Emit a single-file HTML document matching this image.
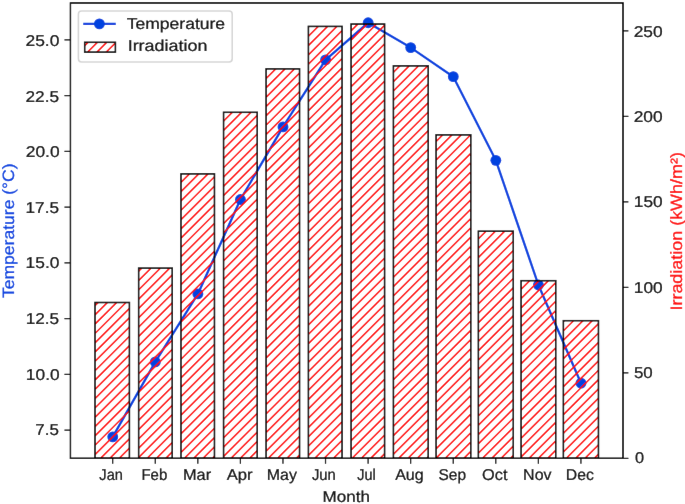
<!DOCTYPE html>
<html><head><meta charset="utf-8"><title>Temperature and Irradiation by Month</title>
<style>html,body{margin:0;padding:0;background:#fff}body{width:685px;height:504px;overflow:hidden;font-family:"Liberation Sans",sans-serif}svg{display:block}text{text-rendering:geometricPrecision}</style>
</head><body>
<svg width="685" height="504" viewBox="0 0 685 504" font-family="'Liberation Sans', sans-serif">
<rect width="685" height="504" fill="#fff"/>
<defs>
<clipPath id="cb"><rect x="95.00" y="302.50" width="34.40" height="155.80"/><rect x="138.66" y="268.10" width="33.54" height="190.20"/><rect x="180.98" y="173.90" width="33.48" height="284.40"/><rect x="223.57" y="112.30" width="33.63" height="346.00"/><rect x="266.07" y="68.90" width="33.48" height="389.40"/><rect x="308.40" y="26.40" width="33.65" height="431.90"/><rect x="351.07" y="24.05" width="33.53" height="434.25"/><rect x="393.40" y="65.90" width="34.80" height="392.40"/><rect x="436.07" y="134.90" width="34.73" height="323.40"/><rect x="478.36" y="231.20" width="34.89" height="227.10"/><rect x="521.07" y="280.70" width="34.68" height="177.60"/><rect x="563.36" y="320.70" width="35.09" height="137.60"/></clipPath>
<clipPath id="ca"><rect x="70.46" y="2.97" width="552.54" height="455.33"/></clipPath>
<clipPath id="cl"><rect x="84.7" y="42.3" width="30.700000000000003" height="9.800000000000004"/></clipPath>
<filter id="g" x="0" y="0" width="685" height="504" filterUnits="userSpaceOnUse"><feOffset dx="0" dy="0"/></filter>
<filter id="bl" x="0" y="0" width="685" height="504" filterUnits="userSpaceOnUse"><feConvolveMatrix order="3" kernelMatrix="0.0019 0.0439 0.0019 0.0439 1 0.0439 0.0019 0.0439 0.0019" edgeMode="duplicate" preserveAlpha="true"/></filter>
</defs>
<g filter="url(#bl)">
<rect width="685" height="504" fill="#fff"/>
<g clip-path="url(#ca)"><polyline points="112.75,436.80 155.32,361.90 197.88,293.90 240.45,199.50 283.01,126.90 325.58,59.80 368.15,22.75 410.71,47.60 453.28,76.70 495.84,160.30 538.41,285.00 580.98,383.20" fill="none" stroke="#0343df" stroke-width="2.32" stroke-linejoin="round" stroke-linecap="square"/>
<circle cx="112.75" cy="436.80" r="5.42" fill="#0343df"/>
<circle cx="155.32" cy="361.90" r="5.42" fill="#0343df"/>
<circle cx="197.88" cy="293.90" r="5.42" fill="#0343df"/>
<circle cx="240.45" cy="199.50" r="5.42" fill="#0343df"/>
<circle cx="283.01" cy="126.90" r="5.42" fill="#0343df"/>
<circle cx="325.58" cy="59.80" r="5.42" fill="#0343df"/>
<circle cx="368.15" cy="22.75" r="5.42" fill="#0343df"/>
<circle cx="410.71" cy="47.60" r="5.42" fill="#0343df"/>
<circle cx="453.28" cy="76.70" r="5.42" fill="#0343df"/>
<circle cx="495.84" cy="160.30" r="5.42" fill="#0343df"/>
<circle cx="538.41" cy="285.00" r="5.42" fill="#0343df"/>
<circle cx="580.98" cy="383.20" r="5.42" fill="#0343df"/>
</g>
<path clip-path="url(#cb)" d="M-368.85,462.00L75.15,18.00M-359.54,462.00L84.46,18.00M-350.22,462.00L93.78,18.00M-340.90,462.00L103.09,18.00M-331.59,462.00L112.41,18.00M-322.27,462.00L121.72,18.00M-312.96,462.00L131.04,18.00M-303.64,462.00L140.35,18.00M-294.33,462.00L149.67,18.00M-285.01,462.00L158.98,18.00M-275.70,462.00L168.30,18.00M-266.38,462.00L177.61,18.00M-257.07,462.00L186.93,18.00M-247.76,462.00L196.24,18.00M-238.44,462.00L205.56,18.00M-229.12,462.00L214.88,18.00M-219.81,462.00L224.19,18.00M-210.50,462.00L233.50,18.00M-201.18,462.00L242.82,18.00M-191.87,462.00L252.13,18.00M-182.55,462.00L261.45,18.00M-173.24,462.00L270.76,18.00M-163.92,462.00L280.08,18.00M-154.61,462.00L289.39,18.00M-145.29,462.00L298.71,18.00M-135.98,462.00L308.02,18.00M-126.66,462.00L317.34,18.00M-117.35,462.00L326.65,18.00M-108.03,462.00L335.97,18.00M-98.72,462.00L345.28,18.00M-89.40,462.00L354.60,18.00M-80.09,462.00L363.91,18.00M-70.77,462.00L373.23,18.00M-61.46,462.00L382.54,18.00M-52.14,462.00L391.86,18.00M-42.83,462.00L401.17,18.00M-33.51,462.00L410.49,18.00M-24.20,462.00L419.80,18.00M-14.88,462.00L429.12,18.00M-5.56,462.00L438.44,18.00M3.75,462.00L447.75,18.00M13.06,462.00L457.06,18.00M22.38,462.00L466.38,18.00M31.69,462.00L475.69,18.00M41.01,462.00L485.01,18.00M50.32,462.00L494.32,18.00M59.64,462.00L503.64,18.00M68.95,462.00L512.95,18.00M78.27,462.00L522.27,18.00M87.58,462.00L531.58,18.00M96.90,462.00L540.90,18.00M106.21,462.00L550.21,18.00M115.53,462.00L559.53,18.00M124.84,462.00L568.84,18.00M134.16,462.00L578.16,18.00M143.48,462.00L587.48,18.00M152.79,462.00L596.79,18.00M162.11,462.00L606.11,18.00M171.42,462.00L615.42,18.00M180.74,462.00L624.74,18.00M190.05,462.00L634.05,18.00M199.37,462.00L643.37,18.00M208.68,462.00L652.68,18.00M218.00,462.00L662.00,18.00M227.31,462.00L671.31,18.00M236.62,462.00L680.62,18.00M245.94,462.00L689.94,18.00M255.25,462.00L699.25,18.00M264.57,462.00L708.57,18.00M273.88,462.00L717.88,18.00M283.20,462.00L727.20,18.00M292.51,462.00L736.51,18.00M301.83,462.00L745.83,18.00M311.14,462.00L755.14,18.00M320.46,462.00L764.46,18.00M329.77,462.00L773.77,18.00M339.09,462.00L783.09,18.00M348.40,462.00L792.40,18.00M357.72,462.00L801.72,18.00M367.03,462.00L811.03,18.00M376.35,462.00L820.35,18.00M385.66,462.00L829.66,18.00M394.98,462.00L838.98,18.00M404.29,462.00L848.29,18.00M413.61,462.00L857.61,18.00M422.92,462.00L866.92,18.00M432.24,462.00L876.24,18.00M441.55,462.00L885.55,18.00M450.87,462.00L894.87,18.00M460.18,462.00L904.18,18.00M469.50,462.00L913.50,18.00M478.81,462.00L922.81,18.00M488.13,462.00L932.13,18.00M497.44,462.00L941.44,18.00M506.76,462.00L950.76,18.00M516.07,462.00L960.07,18.00M525.39,462.00L969.39,18.00M534.70,462.00L978.70,18.00M544.02,462.00L988.02,18.00M553.33,462.00L997.33,18.00M562.65,462.00L1006.65,18.00M571.96,462.00L1015.96,18.00M581.28,462.00L1025.28,18.00M590.60,462.00L1034.60,18.00M599.91,462.00L1043.91,18.00M609.22,462.00L1053.22,18.00" stroke="#ff0000" stroke-width="1.55" fill="none"/>
<g clip-path="url(#ca)" fill="none" stroke="#000" stroke-width="1.55"><rect x="95.00" y="302.50" width="34.40" height="155.80"/><rect x="138.66" y="268.10" width="33.54" height="190.20"/><rect x="180.98" y="173.90" width="33.48" height="284.40"/><rect x="223.57" y="112.30" width="33.63" height="346.00"/><rect x="266.07" y="68.90" width="33.48" height="389.40"/><rect x="308.40" y="26.40" width="33.65" height="431.90"/><rect x="351.07" y="24.05" width="33.53" height="434.25"/><rect x="393.40" y="65.90" width="34.80" height="392.40"/><rect x="436.07" y="134.90" width="34.73" height="323.40"/><rect x="478.36" y="231.20" width="34.89" height="227.10"/><rect x="521.07" y="280.70" width="34.68" height="177.60"/><rect x="563.36" y="320.70" width="35.09" height="137.60"/></g>
<rect x="70.46" y="2.97" width="552.54" height="455.33" fill="none" stroke="#000" stroke-width="1.24"/>
<rect x="70.46" y="2.97" width="552.54" height="455.33" fill="none" stroke="#000" stroke-width="1.24"/>
<path d="M112.70,458.3v5.42M155.27,458.3v5.42M197.83,458.3v5.42M240.40,458.3v5.42M282.96,458.3v5.42M325.53,458.3v5.42M368.10,458.3v5.42M410.66,458.3v5.42M453.23,458.3v5.42M495.79,458.3v5.42M538.36,458.3v5.42M580.93,458.3v5.42M70.46,430.20h-6.02M70.46,374.43h-6.02M70.46,318.66h-6.02M70.46,262.89h-6.02M70.46,207.12h-6.02M70.46,151.35h-6.02M70.46,95.58h-6.02M70.46,39.81h-6.02M623.0,458.30h5.42M623.0,372.80h5.42M623.0,287.30h5.42M623.0,201.80h5.42M623.0,116.30h5.42M623.0,30.80h5.42" stroke="#000" stroke-width="1.24" fill="none"/>
<rect x="78.4" y="10.9" width="153.79999999999998" height="51.0" rx="3.1" fill="#fff" fill-opacity="0.8" stroke="#ccc" stroke-opacity="0.8" stroke-width="1.55"/>
<path d="M84.4,23.9H114.6" stroke="#0343df" stroke-width="2.32" stroke-linecap="square"/><circle cx="99.4" cy="23.9" r="5.42" fill="#0343df"/>
<path clip-path="url(#cl)" d="M44.46,58.00L66.46,36.00M53.78,58.00L75.78,36.00M63.09,58.00L85.09,36.00M72.41,58.00L94.41,36.00M81.72,58.00L103.72,36.00M91.04,58.00L113.04,36.00M100.35,58.00L122.35,36.00M109.67,58.00L131.67,36.00M118.98,58.00L140.98,36.00M128.30,58.00L150.30,36.00" stroke="#ff0000" stroke-width="1.55" fill="none"/>
<rect x="84.7" y="42.3" width="30.700000000000003" height="9.800000000000004" fill="none" stroke="#000" stroke-width="1.55"/>
<g filter="url(#g)"><text transform="translate(99.33,479.60) scale(0.8902,0.96)" font-size="16.411" fill="#000" stroke="#000" stroke-width="0.25">Jan</text>
<text transform="translate(141.40,479.60) scale(0.9143,0.96)" font-size="16.411" fill="#000" stroke="#000" stroke-width="0.25">Feb</text>
<text transform="translate(182.99,479.60) scale(0.9959,0.96)" font-size="16.411" fill="#000" stroke="#000" stroke-width="0.25">Mar</text>
<text transform="translate(226.65,479.60) scale(1.0125,0.96)" font-size="16.411" fill="#000" stroke="#000" stroke-width="0.25">Apr</text>
<text transform="translate(266.78,479.60) scale(0.9712,0.96)" font-size="16.411" fill="#000" stroke="#000" stroke-width="0.25">May</text>
<text transform="translate(311.97,479.60) scale(0.9026,0.96)" font-size="16.411" fill="#000" stroke="#000" stroke-width="0.25">Jun</text>
<text transform="translate(357.29,479.60) scale(0.8803,0.96)" font-size="16.411" fill="#000" stroke="#000" stroke-width="0.25">Jul</text>
<text transform="translate(395.16,479.60) scale(0.9785,0.96)" font-size="16.411" fill="#000" stroke="#000" stroke-width="0.25">Aug</text>
<text transform="translate(438.46,479.60) scale(0.9426,0.96)" font-size="16.411" fill="#000" stroke="#000" stroke-width="0.25">Sep</text>
<text transform="translate(482.12,479.60) scale(0.9931,0.96)" font-size="16.411" fill="#000" stroke="#000" stroke-width="0.25">Oct</text>
<text transform="translate(523.11,479.60) scale(0.9739,0.96)" font-size="16.411" fill="#000" stroke="#000" stroke-width="0.25">Nov</text>
<text transform="translate(565.75,479.60) scale(0.9609,0.96)" font-size="16.411" fill="#000" stroke="#000" stroke-width="0.25">Dec</text>
<text transform="translate(35.27,435.00) scale(1.0339,0.96)" font-size="16.411" fill="#000" stroke="#000" stroke-width="0.25">7.5</text>
<text transform="translate(25.87,380.00) scale(1.0567,0.96)" font-size="16.411" fill="#000" stroke="#000" stroke-width="0.25">10.0</text>
<text transform="translate(25.63,324.00) scale(1.0475,0.96)" font-size="16.411" fill="#000" stroke="#000" stroke-width="0.25">12.5</text>
<text transform="translate(25.62,268.00) scale(1.0567,0.96)" font-size="16.411" fill="#000" stroke="#000" stroke-width="0.25">15.0</text>
<text transform="translate(25.51,213.00) scale(1.0475,0.96)" font-size="16.411" fill="#000" stroke="#000" stroke-width="0.25">17.5</text>
<text transform="translate(25.75,157.00) scale(1.0605,0.96)" font-size="16.411" fill="#000" stroke="#000" stroke-width="0.25">20.0</text>
<text transform="translate(25.51,102.00) scale(1.0515,0.96)" font-size="16.411" fill="#000" stroke="#000" stroke-width="0.25">22.5</text>
<text transform="translate(25.50,46.00) scale(1.0605,0.96)" font-size="16.411" fill="#000" stroke="#000" stroke-width="0.25">25.0</text>
<text transform="translate(635.02,463.00) scale(0.9948,0.96)" font-size="16.411" fill="#000" stroke="#000" stroke-width="0.25">0</text>
<text transform="translate(633.96,378.00) scale(1.0310,0.96)" font-size="16.411" fill="#000" stroke="#000" stroke-width="0.25">50</text>
<text transform="translate(633.82,293.00) scale(1.0526,0.96)" font-size="16.411" fill="#000" stroke="#000" stroke-width="0.25">100</text>
<text transform="translate(633.82,207.00) scale(1.0526,0.96)" font-size="16.411" fill="#000" stroke="#000" stroke-width="0.25">150</text>
<text transform="translate(633.70,122.00) scale(1.0572,0.96)" font-size="16.411" fill="#000" stroke="#000" stroke-width="0.25">200</text>
<text transform="translate(633.70,37.00) scale(1.0572,0.96)" font-size="16.411" fill="#000" stroke="#000" stroke-width="0.25">250</text>
<text transform="translate(322.54,502.20) scale(1.0389,0.96)" font-size="16.411" fill="#000" stroke="#000" stroke-width="0.25">Month</text>
<text transform="translate(14.00,298.00) rotate(-90) scale(1.0684,1)" font-size="16.411" fill="#0343df" stroke="#0343df" stroke-width="0.25">Temperature (°C)</text>
<text transform="translate(681.60,310.52) rotate(-90) scale(1.0927,1)" font-size="16.411" fill="#ff0000" stroke="#ff0000" stroke-width="0.25">Irradiation (kWh/m²)</text>
<text transform="translate(126.66,28.70) scale(1.0691,0.96)" font-size="16.411" fill="#000" stroke="#000" stroke-width="0.25">Temperature</text>
<text transform="translate(127.66,51.45) scale(1.0934,0.96)" font-size="16.411" fill="#000" stroke="#000" stroke-width="0.25">Irradiation</text></g>
</g>
</svg>
</body></html>
